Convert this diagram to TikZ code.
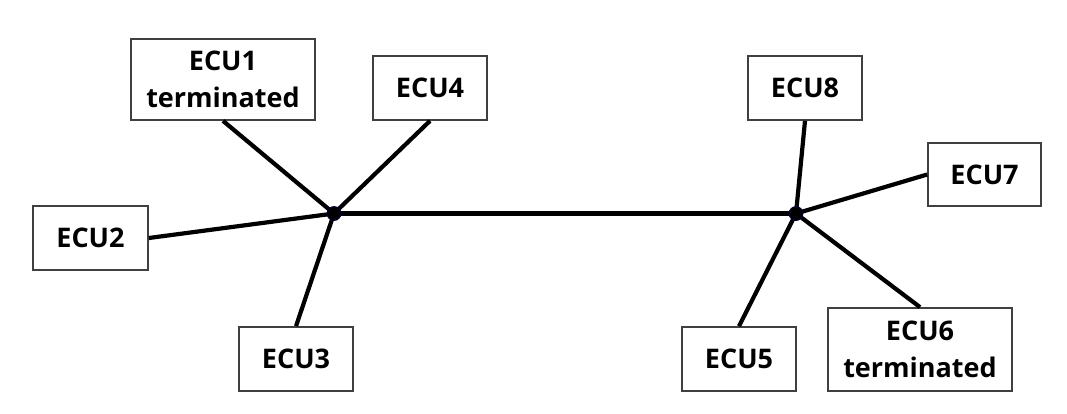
\documentclass[tikz,border=0pt]{standalone}
\usepackage{fontspec}
\setmainfont{Open Sans}
\begin{document}
\begin{tikzpicture}[x=1pt,y=-1pt,
  ecu/.style={draw=black!75, line width=1.7pt, fill=white, inner sep=0pt, align=center,
    font=\fontsize{27}{37}\selectfont\bfseries},
  wire/.style={line width=4.2pt, black},
  junc/.style={circle, fill=black, draw=blue!30!black, line width=0.8pt, minimum size=14pt, inner sep=0pt}]
\useasboundingbox (0,0) rectangle (1067,413);
\coordinate (J1) at (334,213.5);
\coordinate (J2) at (796,213.5);
\node[ecu, minimum width=184pt, minimum height=81pt] (E1) at (223,79.5) {ECU1\\terminated};
\node[ecu, minimum width=114pt, minimum height=64pt] (E4) at (430,88) {ECU4};
\node[ecu, minimum width=115pt, minimum height=64pt] (E2) at (90.5,238) {ECU2};
\node[ecu, minimum width=114pt, minimum height=64pt] (E3) at (296,359) {ECU3};
\node[ecu, minimum width=114pt, minimum height=64pt] (E8) at (805,88) {ECU8};
\node[ecu, minimum width=113pt, minimum height=63pt] (E7) at (984.5,174.5) {ECU7};
\node[ecu, minimum width=114pt, minimum height=64pt] (E5) at (739,359) {ECU5};
\node[ecu, minimum width=184pt, minimum height=83pt] (E6) at (920,349.5) {ECU6\\terminated};
\draw[wire] (J1) -- (J2);
\draw[wire] (E1.south) -- (J1);
\draw[wire] (E4.south) -- (J1);
\draw[wire] (E2.east) -- (J1);
\draw[wire] (E3.north) -- (J1);
\draw[wire] (E8.south) -- (J2);
\draw[wire] (E7.west) -- (J2);
\draw[wire] (E5.north) -- (J2);
\draw[wire] (E6.north) -- (J2);
\node[junc] (D1) at (J1) {};
\node[junc] (D2) at (J2) {};
\end{tikzpicture}
\end{document}
